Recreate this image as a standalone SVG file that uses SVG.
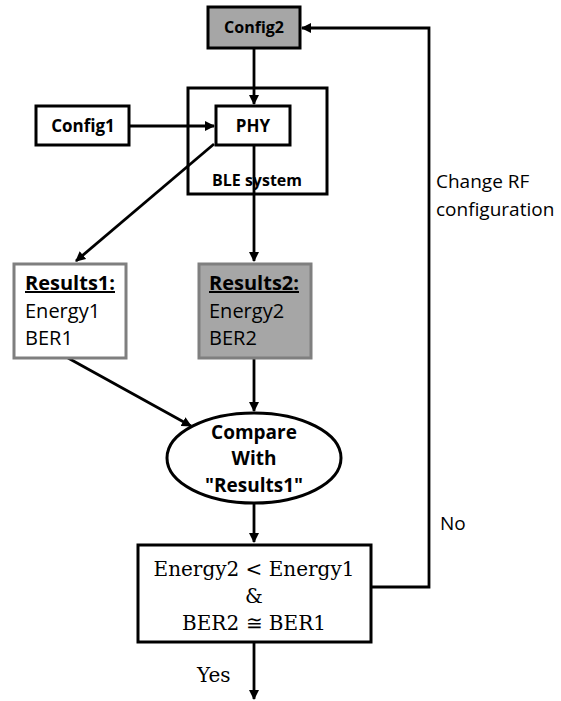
<svg xmlns="http://www.w3.org/2000/svg" width="561" height="701" viewBox="0 0 561 701">
<style>
.box{fill:#fff;stroke:#000;stroke-width:3}
.gray{fill:#a6a6a6}
.res{stroke:#7f7f7f;stroke-width:3}
.c{fill:none;stroke:#000;stroke-width:2.8}
.b{font-family:"Open Sans",Lato,sans-serif;font-weight:bold;fill:#000}
.r{font-family:"Open Sans",Lato,sans-serif;fill:#000}
.s{font-family:"DejaVu Serif","Liberation Serif",serif;fill:#000}
</style>
<defs>
<marker id="ah" viewBox="0 0 10 10" refX="9" refY="5" markerWidth="3.6" markerHeight="3.6" orient="auto" markerUnits="strokeWidth">
<path d="M0,0 L10,5 L0,10 z" fill="#000"/>
</marker>
</defs>
<rect width="561" height="701" fill="#fff"/>
<g id="ble-system">
<rect class="box" x="188" y="88" width="139" height="106"/>
<text class="b" x="257" y="186" font-size="16" text-anchor="middle">BLE system</text>
</g>
<g id="connectors">
<path class="c" d="M254,48 L254,104" marker-end="url(#ah)"/>
<path class="c" d="M129,126 L214,126" marker-end="url(#ah)"/>
<path class="c" d="M214,144 L76,261" marker-end="url(#ah)"/>
<path class="c" d="M254,145 L254,261" marker-end="url(#ah)"/>
<path class="c" d="M68,358 L191,426" marker-end="url(#ah)"/>
<path class="c" d="M254,358 L254,411" marker-end="url(#ah)"/>
<path class="c" d="M254,503 L254,542" marker-end="url(#ah)"/>
<path class="c" d="M254,642 L254,699" marker-end="url(#ah)"/>
<path class="c" d="M371,587 L429,587 L429,28 L302,28" marker-end="url(#ah)"/>
<text class="r" x="436" y="188" font-size="19">Change RF</text>
<text class="r" x="436" y="216" font-size="19">configuration</text>
<text class="r" x="440" y="530" font-size="19">No</text>
<text class="s" x="197" y="682" font-size="20">Yes</text>
</g>
<g id="config2">
<rect class="box gray" x="208" y="7" width="92" height="41"/>
<text class="b" x="254" y="33" font-size="16" text-anchor="middle">Config2</text>
</g>
<g id="config1">
<rect class="box" x="36" y="106" width="93" height="39"/>
<text class="b" x="83" y="132" font-size="17" text-anchor="middle">Config1</text>
</g>
<g id="phy">
<rect class="box" x="216" y="106" width="74" height="39"/>
<text class="b" x="253" y="132" font-size="17" text-anchor="middle">PHY</text>
</g>
<g id="results1">
<rect class="box res" x="14" y="264" width="112" height="94"/>
<text class="b" x="25" y="290" font-size="20" text-decoration="underline">Results1:</text>
<text class="r" x="25" y="318" font-size="20">Energy1</text>
<text class="r" x="25" y="345" font-size="20">BER1</text>
</g>
<g id="results2">
<rect class="box gray res" x="199" y="264" width="112" height="94"/>
<text class="b" x="209" y="290" font-size="20" text-decoration="underline">Results2:</text>
<text class="r" x="209" y="318" font-size="20">Energy2</text>
<text class="r" x="209" y="345" font-size="20">BER2</text>
</g>
<g id="compare">
<ellipse class="box" cx="254" cy="458" rx="87" ry="45"/>
<text class="b" x="254" y="439" font-size="19" text-anchor="middle">Compare</text>
<text class="b" x="254" y="465" font-size="19" text-anchor="middle">With</text>
<text class="b" x="254" y="492" font-size="19" text-anchor="middle">"Results1"</text>
</g>
<g id="condition">
<rect class="box" x="138" y="545" width="233" height="97"/>
<text class="s" x="254" y="576" font-size="20" text-anchor="middle">Energy2 &lt; Energy1</text>
<text class="s" x="254" y="603" font-size="20" text-anchor="middle">&amp;</text>
<text class="s" x="254" y="630" font-size="20" text-anchor="middle">BER2 ≅ BER1</text>
</g>
</svg>
